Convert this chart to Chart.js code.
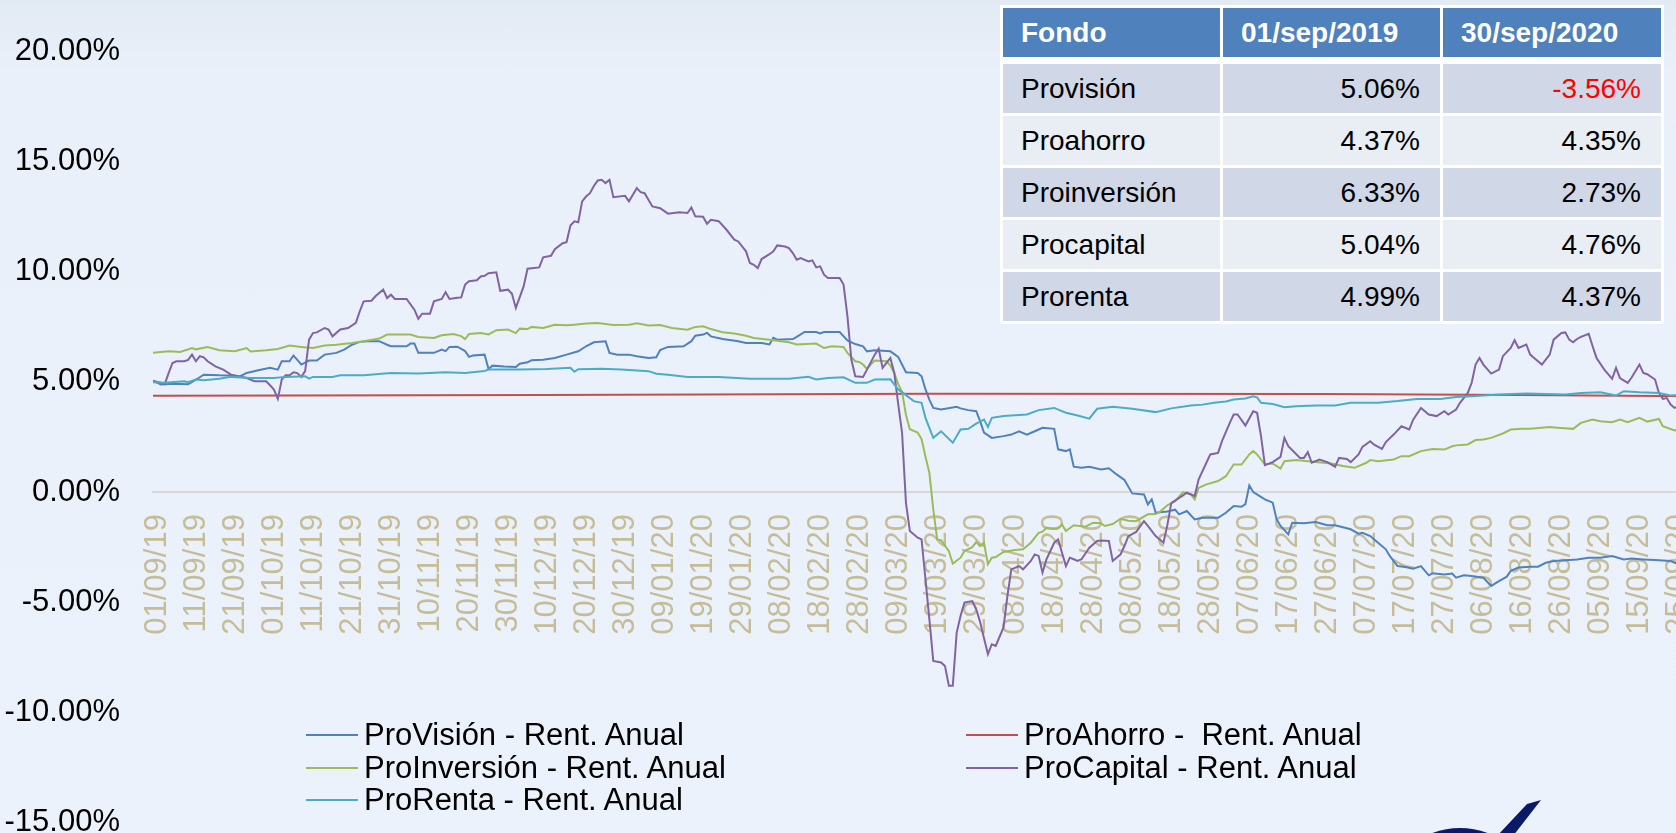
<!DOCTYPE html>
<html lang="es">
<head>
<meta charset="utf-8">
<title>Rentabilidad anual de los fondos</title>
<script src="https://cdn.jsdelivr.net/npm/chart.js@4.4.1/dist/chart.umd.min.js"></script>
<style>
  html, body { margin: 0; padding: 0; width: 1676px; height: 833px; overflow: hidden; }
  body {
    position: relative;
    background: linear-gradient(#e2eaf3 0px, #e9f0fa 70px, #ecf2fc 833px);
    font-family: 'Liberation Sans', Arial, sans-serif;
  }
  /* canvas is a bit wider/taller than the window: the original picture is cropped */
  #wrap { position: absolute; left: 0; top: 0; width: 1734px; height: 874px; }
  #legend {
    position: absolute; left: 306px; top: 719px;
    display: grid; grid-template-columns: 660px 420px; grid-auto-rows: 32.5px;
    font-size: 31px; line-height: 32.5px; color: #000;
  }
  #legend .item { display: flex; align-items: center; white-space: pre; }
  #legend .swatch { width: 52px; height: 2px; margin-right: 6px; }
  #rates {
    position: absolute; left: 1000px; top: 5px; width: 664px;
    table-layout: fixed;
    border-collapse: separate; border-spacing: 3px; background: #fff;
    font-size: 28px; color: #000;
  }
  #rates th {
    background: #4f81bd; color: #fff; font-weight: bold; text-align: left;
    height: 49px; padding: 0 0 0 18px; border-bottom: 4px solid #fff;
  }
  #rates th:nth-child(1), #rates th:nth-child(2) { width: 199px; }
  #rates td { height: 49px; padding: 0 20px 0 18px; text-align: right; }
  #rates td:first-child { text-align: left; }
  #rates tr:nth-child(odd) td { background: #d0d8e8; }
  #rates tr:nth-child(even) td { background: #e9edf4; }
  #rates .neg { color: #ff0000; }
  #logo { position: absolute; left: 1400px; top: 790px; }
</style>
</head>
<body>
<div id="wrap"><canvas id="chart"></canvas></div>
<div id="legend"></div>
<table id="rates"><thead></thead><tbody></tbody></table>
<svg id="logo" width="160" height="43" viewBox="1400 790 160 43">
  <path d="M1415 846 Q1460 818 1505 846" fill="none" stroke="#0b1a66" stroke-width="8"/>
  <path d="M1497 836 L1527 804 L1541 800 L1513 836 Z" fill="#0b1a66"/>
</svg>
<script>
// tick labels, one every 10 days starting 01/09/19 (day 0)
const tickLabels = ['01/09/19', '11/09/19', '21/09/19', '01/10/19', '11/10/19', '21/10/19', '31/10/19',
  '10/11/19', '20/11/19', '30/11/19', '10/12/19', '20/12/19', '30/12/19', '09/01/20', '19/01/20',
  '29/01/20', '08/02/20', '18/02/20', '28/02/20', '09/03/20', '19/03/20', '29/03/20', '08/04/20',
  '18/04/20', '28/04/20', '08/05/20', '18/05/20', '28/05/20', '07/06/20', '17/06/20', '27/06/20',
  '07/07/20', '17/07/20', '27/07/20', '06/08/20', '16/08/20', '26/08/20', '05/09/20', '15/09/20',
  '25/09/20'];
const lastDay = 395; // 30/09/20

const seriesNames = ['ProVisión - Rent. Anual', 'ProAhorro -  Rent. Anual', 'ProInversión - Rent. Anual',
  'ProCapital - Rent. Anual', 'ProRenta - Rent. Anual'];
const seriesColors = ['#4f81bd', '#c0504d', '#9bbb59', '#8064a2', '#4bacc6'];

// [day since 01/09/19, annual return %]
const provision = [[0,5.06],[2,4.88],[5,4.92],[9,4.90],[11,5.10],[13,5.33],[17,5.30],[20,5.29],[22,5.23],
  [24,5.41],[27,5.53],[30,5.64],[32,5.56],[33,5.94],[35,5.94],[36,6.20],[37,6.00],[38,5.79],[40,5.97],
  [42,5.97],[44,6.24],[47,6.32],[49,6.47],[51,6.69],[53,6.82],[55,6.85],[58,6.85],[60,6.69],[61,6.62],
  [65,6.62],[66,6.74],[67,6.74],[68,6.32],[72,6.32],[74,6.47],[75,6.40],[76,6.59],[78,6.60],[80,6.40],
  [81,6.14],[82,6.20],[85,6.24],[86,5.59],[87,5.74],[90,5.70],[93,5.68],[94,5.83],[96,5.89],[97,5.98],
  [100,6.01],[103,6.09],[106,6.24],[109,6.39],[111,6.62],[113,6.80],[116,6.85],[117,6.32],[119,6.24],
  [122,6.24],[124,6.17],[127,6.09],[129,6.12],[130,6.45],[132,6.59],[136,6.62],[138,6.85],[139,7.10],
  [141,7.15],[142,7.23],[143,7.07],[146,6.95],[150,6.85],[152,6.77],[156,6.77],[158,6.70],[159,7.00],
  [160,6.92],[164,6.95],[165,7.05],[167,7.27],[170,7.27],[171,7.20],[172,7.27],[176,7.27],[178,6.89],
  [180,6.72],[182,6.62],[183,6.39],[185,6.44],[189,6.39],[191,6.14],[193,5.44],[196,5.41],[197,5.26],
  [198,4.66],[199,4.20],[200,3.82],[202,3.75],[206,3.87],[207,3.80],[209,3.72],[211,3.67],[212,3.22],
  [213,2.70],[215,2.46],[218,2.54],[220,2.61],[222,2.76],[224,2.61],[226,2.76],[228,2.92],[231,2.87],
  [232,1.94],[234,1.86],[235,1.94],[236,1.15],[238,1.10],[240,1.15],[243,1.03],[245,1.08],[247,0.80],
  [249,0.55],[251,-0.06],[254,-0.11],[255,-0.56],[256,-0.33],[257,-0.94],[260,-0.88],[262,-0.80],
  [263,-1.01],[265,-0.86],[267,-1.24],[269,-1.17],[273,-1.17],[275,-0.94],[277,-0.63],[279,-0.67],
  [280,-0.55],[281,0.30],[282,0.00],[285,-0.33],[287,-0.48],[288,-1.24],[289,-1.54],[291,-1.92],
  [292,-1.39],[295,-1.42],[298,-1.36],[301,-1.51],[303,-1.51],[307,-1.69],[309,-1.89],[310,-1.85],
  [312,-2.00],[314,-2.30],[316,-2.60],[317,-2.90],[319,-3.36],[321,-3.40],[323,-3.48],[325,-3.36],
  [327,-3.78],[328,-3.69],[331,-3.74],[333,-3.70],[334,-3.89],[336,-3.78],[338,-3.81],[341,-3.89],
  [343,-4.26],[345,-4.04],[347,-3.84],[348,-3.58],[350,-3.43],[353,-3.39],[355,-3.39],[357,-3.21],
  [359,-3.13],[362,-3.10],[365,-3.06],[368,-2.98],[371,-2.98],[374,-2.90],[377,-3.06],[379,-3.02],
  [382,-3.06],[385,-3.09],[389,-3.13],[391,-3.28],[393,-3.51],[395,-3.56]];

const proahorro = [[0,4.37],[100,4.41],[200,4.46],[300,4.45],[350,4.41],[395,4.35]];

const proinversion = [[0,6.33],[4,6.39],[7,6.36],[10,6.54],[11,6.48],[14,6.59],[17,6.44],[21,6.39],
  [24,6.54],[25,6.38],[29,6.44],[32,6.50],[35,6.65],[38,6.59],[41,6.54],[44,6.65],[47,6.69],[51,6.77],
  [54,6.85],[58,6.97],[60,7.15],[66,7.15],[68,7.04],[72,7.00],[74,7.12],[77,7.18],[79,7.08],[80,6.95],
  [81,7.18],[84,7.22],[86,7.16],[88,7.35],[91,7.38],[93,7.22],[94,7.42],[96,7.40],[97,7.50],[100,7.45],
  [103,7.60],[106,7.57],[108,7.60],[111,7.65],[114,7.68],[118,7.59],[122,7.60],[124,7.66],[127,7.56],
  [130,7.58],[133,7.45],[137,7.37],[139,7.50],[141,7.53],[143,7.40],[146,7.26],[149,7.20],[152,7.10],
  [154,7.00],[158,6.92],[163,6.80],[165,6.70],[170,6.74],[172,6.54],[174,6.62],[177,6.59],[178,6.32],
  [180,5.94],[181,5.91],[182,5.79],[183,5.59],[184,5.80],[185,5.97],[188,5.94],[189,5.74],[190,5.41],
  [191,4.90],[192,4.55],[193,3.50],[194,2.85],[196,2.70],[197,2.40],[198,1.60],[199,0.87],[200,-0.79],
  [201,-2.15],[202,-2.18],[204,-2.68],[205,-3.25],[207,-2.98],[208,-2.68],[210,-2.50],[211,-2.27],
  [212,-2.45],[213,-2.30],[214,-3.28],[215,-2.98],[216,-2.95],[218,-2.72],[221,-2.63],[223,-2.60],
  [225,-2.30],[227,-1.85],[228,-1.80],[229,-1.62],[231,-1.68],[232,-1.65],[233,-1.47],[234,-1.77],
  [236,-1.51],[239,-1.57],[241,-1.39],[243,-1.42],[244,-1.54],[246,-1.45],[248,-1.21],[250,-1.30],
  [252,-1.32],[255,-1.01],[257,-1.00],[258,-0.91],[260,-0.60],[262,-0.41],[264,0.00],[266,-0.10],
  [267,-0.33],[268,0.19],[270,0.35],[273,0.50],[275,0.72],[277,1.25],[279,1.25],[281,1.71],[282,1.86],
  [283,1.71],[285,1.25],[287,1.30],[289,1.07],[290,1.40],[293,1.45],[298,1.36],[302,1.30],[305,1.18],
  [308,1.10],[309,1.18],[311,1.33],[312,1.45],[314,1.40],[318,1.48],[320,1.63],[322,1.63],[325,1.86],
  [328,1.96],[331,1.93],[333,2.08],[334,2.12],[337,2.16],[339,2.36],[341,2.39],[343,2.46],[346,2.66],
  [348,2.84],[351,2.87],[353,2.87],[358,2.95],[360,2.92],[364,2.87],[366,3.14],[369,3.29],[371,3.22],
  [374,3.17],[376,3.29],[378,3.17],[381,3.37],[383,3.20],[386,3.32],[387,2.99],[390,2.80],[392,2.92],
  [395,2.73]];

const procapital = [[0,5.04],[2,4.96],[3,4.90],[4,5.40],[5,5.86],[6,5.94],[8,5.94],[9,6.00],[10,6.24],
  [11,5.94],[12,6.17],[13,6.12],[14,5.94],[16,5.71],[18,5.56],[20,5.33],[22,5.26],[24,5.18],[26,5.03],
  [29,5.03],[30,4.85],[31,4.65],[32,4.23],[33,5.11],[34,5.30],[35,5.30],[36,5.44],[37,5.40],[38,5.23],
  [39,5.49],[40,6.92],[41,7.22],[42,7.25],[44,7.45],[45,7.38],[46,7.07],[48,7.38],[50,7.45],[52,7.68],
  [53,8.21],[54,8.66],[56,8.69],[57,8.89],[59,9.19],[60,8.81],[61,8.96],[62,8.77],[65,8.77],[67,8.28],
  [68,7.87],[69,8.10],[71,8.10],[72,8.66],[74,8.77],[75,9.07],[76,8.77],[78,8.82],[79,8.84],[80,9.42],
  [81,9.57],[83,9.62],[84,9.79],[85,9.82],[86,9.94],[88,9.98],[89,9.14],[91,9.19],[92,9.00],[93,8.36],
  [95,9.34],[96,10.14],[99,10.20],[100,10.66],[102,10.73],[103,11.03],[105,11.30],[106,11.35],
  [107,12.10],[108,12.29],[109,12.25],[110,13.20],[111,13.42],[112,13.57],[113,13.90],[114,14.15],
  [115,14.18],[116,14.03],[117,14.18],[118,13.39],[121,13.45],[122,13.20],[123,13.50],[124,13.80],
  [125,13.62],[126,13.57],[128,12.97],[130,12.89],[132,12.64],[135,12.70],[137,12.67],[138,12.92],
  [139,12.52],[141,12.50],[142,12.18],[143,12.36],[145,12.30],[147,11.91],[149,11.46],[150,11.38],
  [152,10.93],[153,10.40],[154,10.32],[155,10.17],[156,10.58],[158,10.80],[159,10.93],[160,11.20],
  [162,11.15],[163,11.08],[164,10.85],[165,10.55],[166,10.62],[168,10.47],[169,10.52],[170,10.20],
  [171,10.25],[172,9.87],[173,9.72],[176,9.72],[177,9.42],[178,7.98],[179,6.02],[180,5.26],[182,5.23],
  [183,5.56],[185,6.24],[186,6.51],[187,5.64],[189,6.09],[190,5.41],[191,4.00],[192,2.69],[193,-0.50],
  [194,-1.77],[196,-2.07],[197,-2.15],[198,-3.96],[199,-5.78],[200,-7.67],[202,-7.74],[203,-7.90],
  [204,-8.80],[205,-8.80],[206,-6.38],[207,-5.62],[208,-5.02],[210,-4.95],[211,-5.32],[212,-5.90],
  [214,-7.36],[215,-6.91],[216,-6.99],[218,-6.15],[219,-4.72],[220,-3.51],[222,-3.36],[223,-3.51],
  [225,-3.13],[226,-2.83],[227,-2.90],[228,-3.66],[229,-3.06],[231,-2.30],[232,-2.15],[234,-3.36],
  [235,-2.98],[236,-3.05],[237,-3.13],[238,-3.05],[240,-2.53],[242,-2.22],[243,-2.20],[245,-2.22],
  [246,-3.13],[248,-2.83],[249,-2.45],[250,-2.00],[252,-1.81],[254,-1.32],[255,-1.54],[257,-2.00],
  [259,-2.30],[260,-1.50],[261,-0.50],[264,-0.15],[265,-0.03],[267,-0.18],[268,0.57],[271,1.71],
  [273,1.78],[274,2.31],[276,3.14],[277,3.52],[278,3.52],[280,3.02],[282,3.67],[283,3.60],[284,2.54],
  [285,1.22],[287,1.36],[289,1.60],[290,2.46],[291,2.08],[294,1.55],[295,1.55],[296,1.81],[297,1.33],
  [299,1.48],[301,1.36],[303,1.15],[304,1.55],[306,1.50],[307,1.36],[309,1.71],[310,2.05],[312,2.31],
  [313,2.15],[315,1.96],[316,2.27],[318,2.61],[320,2.99],[322,2.84],[323,3.29],[325,3.82],[327,3.52],
  [329,3.45],[331,3.67],[332,3.52],[334,3.75],[335,4.05],[337,4.50],[338,4.96],[339,5.79],[340,6.09],
  [341,5.79],[343,5.38],[345,5.56],[346,6.17],[348,6.54],[349,6.89],[350,6.54],[352,6.70],[353,6.24],
  [354,6.09],[356,5.79],[358,6.24],[359,6.92],[361,7.22],[362,7.25],[363,6.92],[364,6.80],[365,6.95],
  [366,7.05],[368,7.19],[369,6.62],[370,6.09],[372,5.56],[374,5.14],[375,5.64],[376,5.18],[378,4.96],
  [379,5.20],[381,5.79],[382,5.41],[383,5.35],[385,5.11],[386,4.50],[387,4.23],[388,4.27],[389,3.97],
  [390,3.82],[392,3.97],[393,4.50],[395,4.76]];

const prorenta = [[0,4.99],[3,4.96],[8,5.03],[9,4.99],[11,5.11],[13,5.08],[17,5.15],[20,5.23],[25,5.18],
  [31,5.18],[34,5.23],[39,5.26],[40,5.15],[41,5.23],[46,5.23],[48,5.30],[54,5.30],[61,5.41],[68,5.38],
  [75,5.44],[80,5.41],[85,5.50],[86,5.56],[94,5.56],[101,5.59],[107,5.64],[108,5.46],[109,5.58],
  [115,5.60],[120,5.56],[127,5.49],[129,5.37],[132,5.33],[137,5.23],[145,5.23],[153,5.14],[163,5.15],
  [168,5.23],[170,5.11],[173,5.18],[177,5.21],[180,4.96],[183,4.96],[185,5.11],[189,5.12],[191,4.66],
  [193,4.40],[195,4.13],[197,4.05],[198,3.37],[200,2.46],[202,2.76],[205,2.24],[207,2.84],[209,2.87],
  [211,3.11],[213,3.29],[214,2.96],[215,3.37],[218,3.45],[224,3.52],[227,3.72],[231,3.82],[234,3.60],
  [237,3.48],[240,3.33],[242,3.78],[246,3.87],[251,3.78],[257,3.63],[261,3.80],[266,3.93],[269,3.97],
  [272,4.05],[275,4.11],[277,4.20],[280,4.25],[282,4.35],[283,4.30],[284,4.05],[287,4.00],[290,3.85],
  [293,3.90],[298,3.93],[303,3.93],[307,4.05],[314,4.05],[319,4.13],[324,4.23],[330,4.23],[334,4.32],
  [338,4.35],[345,4.43],[352,4.47],[362,4.43],[366,4.50],[371,4.53],[375,4.38],[377,4.58],[381,4.53],
  [386,4.50],[389,4.38],[392,4.42],[395,4.37]];

// table in the top right corner
const tableHeader = ['Fondo', '01/sep/2019', '30/sep/2020'];
const tableFunds = ['Provisión', 'Proahorro', 'Proinversión', 'Procapital', 'Prorenta'];
const rateSep2019 = [5.06, 4.37, 6.33, 5.04, 4.99];
const rateSep2020 = [-3.56, 4.35, 2.73, 4.76, 4.37];

const FONT = "'Liberation Sans', Arial, sans-serif";
const allSeries = [provision, proahorro, proinversion, procapital, prorenta];

const datasets = allSeries.map((pts, i) => ({
  label: seriesNames[i],
  data: pts.map(([d, v]) => ({ x: d, y: v })),
  borderColor: seriesColors[i],
  backgroundColor: seriesColors[i],
  borderWidth: 2,
  pointRadius: 0,
  tension: 0,
  order: allSeries.length - i   // later series on top, like the original
}));

const chart = new Chart(document.getElementById('chart'), {
  type: 'line',
  data: { datasets },
  options: {
    responsive: true,
    maintainAspectRatio: false,
    animation: false,
    events: [],
    layout: { padding: { top: 48, right: 20, bottom: 30, left: 0 } },
    plugins: { legend: { display: false }, tooltip: { enabled: false } },
    scales: {
      x: {
        type: 'linear',
        min: 0,
        max: lastDay,
        position: { y: 0 },
        grid: { display: false, drawTicks: false },
        border: { display: true, color: '#d9d9d9', width: 2 },
        ticks: {
          stepSize: 10,
          includeBounds: false,
          autoSkip: false,
          minRotation: 90,
          maxRotation: 90,
          padding: 22,
          labelOffset: 4,
          color: '#c4bd97',
          font: { family: FONT, size: 31 },
          callback: (v) => tickLabels[Math.round(v / 10)] || ''
        }
      },
      y: {
        min: -15,
        max: 20,
        grid: { display: false, drawTicks: false },
        border: { display: false },
        ticks: {
          stepSize: 5,
          padding: 33,
          color: '#000',
          font: { family: FONT, size: 31 },
          callback: (v) => v.toFixed(2) + '%'
        },
        afterFit: (scale) => { scale.width = 153; }
      }
    }
  }
});

// legend laid out in two columns under the plot
const legend = document.getElementById('legend');
chart.data.datasets.forEach((ds) => {
  const item = document.createElement('div');
  item.className = 'item';
  const swatch = document.createElement('span');
  swatch.className = 'swatch';
  swatch.style.background = ds.borderColor;
  const txt = document.createElement('span');
  txt.textContent = ds.label;
  item.append(swatch, txt);
  legend.appendChild(item);
});

// rates table
const fmt = (v) => v.toFixed(2) + '%';
const head = document.querySelector('#rates thead');
const hr = document.createElement('tr');
tableHeader.forEach((h) => {
  const th = document.createElement('th');
  th.textContent = h;
  hr.appendChild(th);
});
head.appendChild(hr);
const body = document.querySelector('#rates tbody');
tableFunds.forEach((name, i) => {
  const tr = document.createElement('tr');
  [name, fmt(rateSep2019[i]), fmt(rateSep2020[i])].forEach((t, j) => {
    const td = document.createElement('td');
    td.textContent = t;
    if (j > 0 && [rateSep2019, rateSep2020][j - 1][i] < 0) td.className = 'neg';
    tr.appendChild(td);
  });
  body.appendChild(tr);
});
</script>
</body>
</html>
